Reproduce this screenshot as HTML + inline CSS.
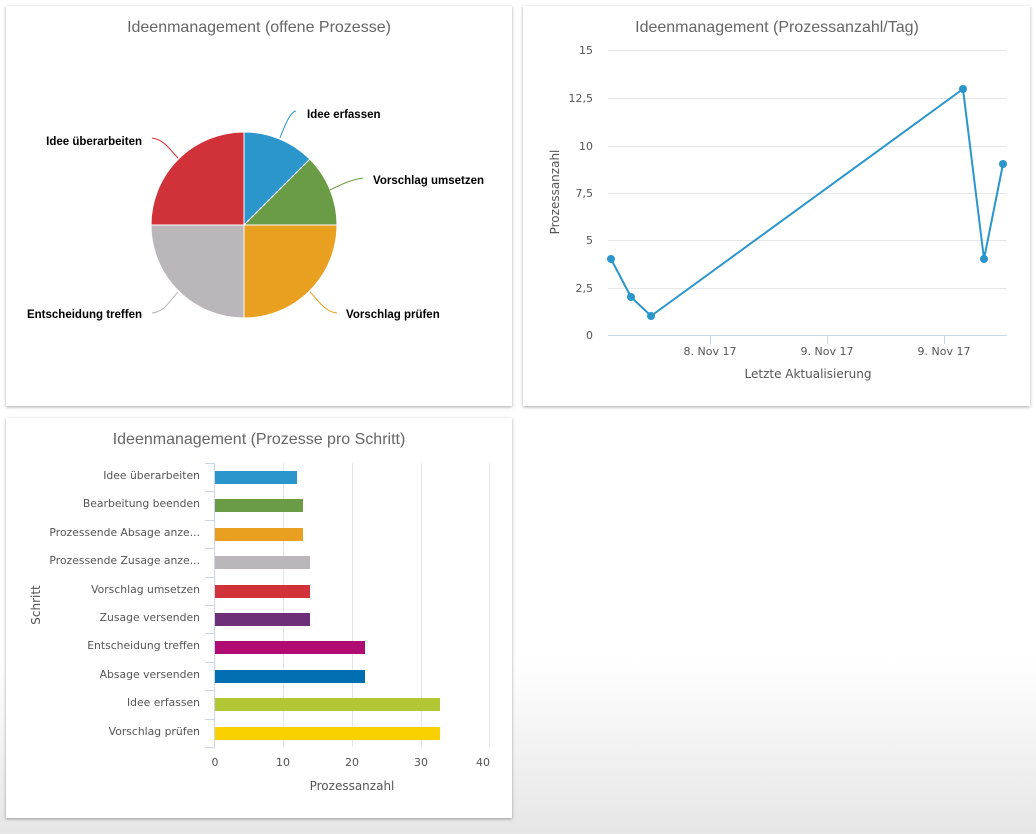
<!DOCTYPE html>
<html><head><meta charset="utf-8"><style>
html,body{margin:0;padding:0;width:1036px;height:834px;overflow:hidden;background:linear-gradient(#ffffff 0px,#ffffff 660px,#e6e6e6 834px);font-family:"Liberation Sans","DejaVu Sans",sans-serif}
.p{position:absolute;background:#fff;box-shadow:0 1px 3px rgba(0,0,0,.35)}
svg{position:absolute;left:0;top:0}
</style></head><body>
<div class="p" style="left:6px;top:6px;width:506px;height:400px"></div>
<div class="p" style="left:523px;top:6px;width:507px;height:400px"></div>
<div class="p" style="left:6px;top:418px;width:506px;height:400px"></div>
<svg width="1036" height="834" font-family="'DejaVu Sans','Liberation Sans',sans-serif">
<g font-size="16" fill="#666" text-anchor="middle" font-family="'Liberation Sans',sans-serif">
<text x="259" y="32">Ideenmanagement (offene Prozesse)</text>
<text x="777" y="32">Ideenmanagement (Prozessanzahl/Tag)</text>
<text x="259" y="444">Ideenmanagement (Prozesse pro Schritt)</text>
</g>
<g stroke="#fff" stroke-width="1">
<path d="M244,225 L244,132 A93,93 0 0 1 309.8,159.2 Z" fill="#2b96cb"/>
<path d="M244,225 L309.8,159.2 A93,93 0 0 1 337,225 Z" fill="#6a9c45"/>
<path d="M244,225 L337,225 A93,93 0 0 1 244,318 Z" fill="#e9a020"/>
<path d="M244,225 L244,318 A93,93 0 0 1 151,225 Z" fill="#bab6b9"/>
<path d="M244,225 L151,225 A93,93 0 0 1 244,132 Z" fill="#d13239"/>
</g>
<g fill="none" stroke-width="1">
<path d="M280,138 C285,125 290,112 296,111" stroke="#2b96cb"/>
<path d="M330,190 C340,185 350,180 363,178" stroke="#6a9c45"/>
<path d="M310,292 C318,300 325,312 337,313" stroke="#e9a020"/>
<path d="M178,292 C170,300 165,312 152,313" stroke="#bab6b9"/>
<path d="M178,158 C170,150 165,140 152,138" stroke="#d13239"/>
</g>
<g font-size="11.5" font-weight="bold" fill="#000" font-family="'Liberation Sans',sans-serif">
<text x="307" y="118">Idee erfassen</text>
<text x="373" y="184">Vorschlag umsetzen</text>
<text x="346" y="318">Vorschlag prüfen</text>
<text x="142" y="318" text-anchor="end">Entscheidung treffen</text>
<text x="142" y="145" text-anchor="end">Idee überarbeiten</text>
</g>
<g stroke="#e6e6e6" stroke-width="1">
<line x1="608" y1="50.5" x2="1007" y2="50.5"/><line x1="608" y1="98.5" x2="1007" y2="98.5"/>
<line x1="608" y1="146.5" x2="1007" y2="146.5"/><line x1="608" y1="193.5" x2="1007" y2="193.5"/>
<line x1="608" y1="240.5" x2="1007" y2="240.5"/><line x1="608" y1="288.5" x2="1007" y2="288.5"/>
</g>
<line x1="608" y1="335.5" x2="1007" y2="335.5" stroke="#ccd6eb"/>
<g stroke="#ccd6eb"><line x1="710.5" y1="335" x2="710.5" y2="344"/><line x1="827.5" y1="335" x2="827.5" y2="344"/><line x1="944.5" y1="335" x2="944.5" y2="344"/></g>
<g font-size="11" fill="#555" text-anchor="end">
<text x="593" y="54">15</text><text x="593" y="102">12,5</text><text x="593" y="150">10</text>
<text x="593" y="197">7,5</text><text x="593" y="244">5</text><text x="593" y="292">2,5</text><text x="593" y="339">0</text>
</g>
<g font-size="11" fill="#555" text-anchor="middle">
<text x="710" y="355">8. Nov 17</text><text x="827" y="355">9. Nov 17</text><text x="944" y="355">9. Nov 17</text>
<text x="808" y="378" font-size="12">Letzte Aktualisierung</text>
<text transform="translate(559,192) rotate(-90)" font-size="12">Prozessanzahl</text>
</g>
<polyline points="611,259 631,297 651,316 963,89 984,259 1003,164" fill="none" stroke="#2b96cb" stroke-width="2"/>
<g fill="#2b96cb"><circle cx="611" cy="259" r="4"/><circle cx="631" cy="297" r="4"/><circle cx="651" cy="316" r="4"/><circle cx="963" cy="89" r="4"/><circle cx="984" cy="259" r="4"/><circle cx="1003" cy="164" r="4"/></g>
<g stroke="#e6e6e6"><line x1="283.5" y1="463" x2="283.5" y2="747"/><line x1="352.5" y1="463" x2="352.5" y2="747"/><line x1="421.5" y1="463" x2="421.5" y2="747"/><line x1="489.5" y1="463" x2="489.5" y2="747"/></g>
<line x1="214.5" y1="463" x2="214.5" y2="747" stroke="#ccd6eb"/>
<g stroke="#ccd6eb">
<line x1="205" y1="463.5" x2="215" y2="463.5"/><line x1="205" y1="491.5" x2="215" y2="491.5"/><line x1="205" y1="520.5" x2="215" y2="520.5"/><line x1="205" y1="548.5" x2="215" y2="548.5"/><line x1="205" y1="577.5" x2="215" y2="577.5"/><line x1="205" y1="605.5" x2="215" y2="605.5"/><line x1="205" y1="633.5" x2="215" y2="633.5"/><line x1="205" y1="662.5" x2="215" y2="662.5"/><line x1="205" y1="690.5" x2="215" y2="690.5"/><line x1="205" y1="719.5" x2="215" y2="719.5"/><line x1="205" y1="747.5" x2="215" y2="747.5"/>
</g>
<rect x="215" y="471" width="82" height="13" fill="#2b96cb"/>
<rect x="215" y="499" width="88" height="13" fill="#6a9c45"/>
<rect x="215" y="528" width="88" height="13" fill="#e9a020"/>
<rect x="215" y="556" width="95" height="13" fill="#bab6b9"/>
<rect x="215" y="585" width="95" height="13" fill="#d13239"/>
<rect x="215" y="613" width="95" height="13" fill="#6d2f78"/>
<rect x="215" y="641" width="150" height="13" fill="#b00b73"/>
<rect x="215" y="670" width="150" height="13" fill="#006eb0"/>
<rect x="215" y="698" width="225" height="13" fill="#b3c634"/>
<rect x="215" y="727" width="225" height="13" fill="#f9d000"/>
<g font-size="10.8" fill="#555" text-anchor="end">
<text x="200" y="479">Idee überarbeiten</text>
<text x="200" y="507">Bearbeitung beenden</text>
<text x="200" y="536">Prozessende Absage anze...</text>
<text x="200" y="564">Prozessende Zusage anze...</text>
<text x="200" y="593">Vorschlag umsetzen</text>
<text x="200" y="621">Zusage versenden</text>
<text x="200" y="649">Entscheidung treffen</text>
<text x="200" y="678">Absage versenden</text>
<text x="200" y="706">Idee erfassen</text>
<text x="200" y="735">Vorschlag prüfen</text>
</g>
<g font-size="11" fill="#555" text-anchor="middle">
<text x="215" y="766">0</text><text x="283" y="766">10</text><text x="352" y="766">20</text><text x="421" y="766">30</text><text x="483" y="766">40</text>
<text x="352" y="790" font-size="12">Prozessanzahl</text>
<text transform="translate(40,605) rotate(-90)" font-size="12">Schritt</text>
</g>
</svg>
</body></html>
